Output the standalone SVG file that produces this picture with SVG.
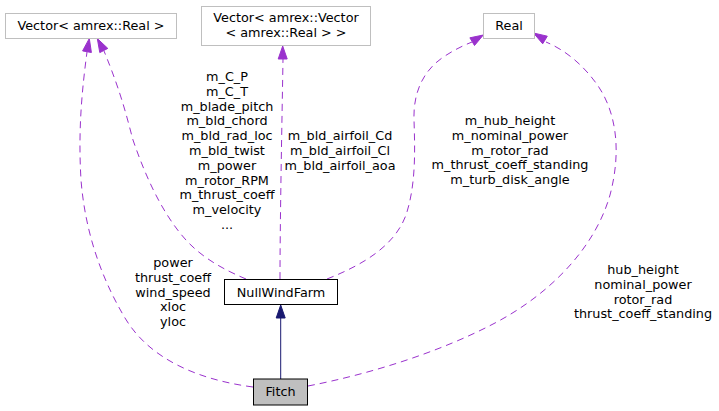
<svg xmlns="http://www.w3.org/2000/svg" width="719" height="411" viewBox="0 0 719 411">
<style>
text{font-family:"DejaVu Sans",sans-serif;font-size:12.8px;fill:#000;text-anchor:middle}
.box{fill:#fff;stroke:#bfbfbf;stroke-width:1}
.box2{fill:#fff;stroke:#000;stroke-width:1}
.cur{fill:#bfbfbf;stroke:#000;stroke-width:1}
.dash{fill:none;stroke:#9a32cd;stroke-width:1;stroke-dasharray:7,5}
.solid{fill:none;stroke:#191970;stroke-width:1}
.ahp{fill:#9a32cd;stroke:#9a32cd}
.ahn{fill:#191970;stroke:#191970}
</style>
<rect width="719" height="411" fill="#fff"/>
<g id="edges">
  <path class="solid" d="M280.7,379 L280.7,318"/>
  <polygon class="ahn" points="280.7,305 276.2,318 285.2,318"/>
  <path class="dash" d="M253,387 C200,380 150,360 125,318 C100,276 85,230 81,180 C78,130 82,90 87,52"/>
  <polygon class="ahp" points="89.3,38.5 82.6,50.9 91.4,52.5"/>
  <path class="dash" d="M246,279 C215,266 195,252 180,233 C160,208 145,175 133,140 C127,118 122,95 104,51"/>
  <polygon class="ahp" points="97.3,38.5 99.8,52.6 107.8,48.4"/>
  <path class="dash" d="M280,279 C280,220 282,120 283,59"/>
  <polygon class="ahp" points="282.7,46 278.2,59 287.2,59"/>
  <path class="dash" d="M327,279 C365,264 395,245 406,215 C416,185 415,150 414,120 C413,90 425,70 442,58 C452,51 462,46 472,42"/>
  <polygon class="ahp" points="483.3,35 469.9,37.8 474.5,45.5"/>
  <path class="dash" d="M308,386 C370,374 440,352 495,323 C550,294 595,248 610,195 C622,150 616,110 596,83 C582,64 565,50 546,42"/>
  <polygon class="ahp" points="533.5,33 542.7,43.8 547.3,36.2"/>
  <g id="edge-labels">
    <text x="227" y="81">m_C_P</text>
    <text x="227" y="95.8">m_C_T</text>
    <text x="227" y="110.6">m_blade_pitch</text>
    <text x="227" y="125.4">m_bld_chord</text>
    <text x="227" y="140.2">m_bld_rad_loc</text>
    <text x="227" y="155">m_bld_twist</text>
    <text x="227" y="169.8">m_power</text>
    <text x="227" y="184.6">m_rotor_RPM</text>
    <text x="227" y="199.4">m_thrust_coeff</text>
    <text x="227" y="214.2">m_velocity</text>
    <text x="227" y="229">...</text>
    <text x="340" y="140">m_bld_airfoil_Cd</text>
    <text x="340" y="154.8">m_bld_airfoil_Cl</text>
    <text x="340" y="169.6">m_bld_airfoil_aoa</text>
    <text x="510" y="125">m_hub_height</text>
    <text x="510" y="139.8">m_nominal_power</text>
    <text x="510" y="154.6">m_rotor_rad</text>
    <text x="510" y="169.4">m_thrust_coeff_standing</text>
    <text x="510" y="184.2">m_turb_disk_angle</text>
    <text x="173" y="267">power</text>
    <text x="173" y="281.8">thrust_coeff</text>
    <text x="173" y="296.6">wind_speed</text>
    <text x="173" y="311.4">xloc</text>
    <text x="173" y="326.2">yloc</text>
    <text x="643" y="274">hub_height</text>
    <text x="643" y="288.8">nominal_power</text>
    <text x="643" y="303.6">rotor_rad</text>
    <text x="643" y="318.4">thrust_coeff_standing</text>
  </g>
</g>
<g id="node-vector-real">
  <rect class="box" x="5.5" y="13.5" width="171" height="25"/>
  <text x="91" y="30">Vector&lt; amrex::Real &gt;</text>
</g>
<g id="node-vector-vector">
  <rect class="box" x="201.5" y="6.5" width="169" height="39"/>
  <text x="286" y="22">Vector&lt; amrex::Vector</text>
  <text x="286" y="36.8">&lt; amrex::Real &gt; &gt;</text>
</g>
<g id="node-real">
  <rect class="box" x="483.5" y="13.5" width="51" height="25"/>
  <text x="509" y="30">Real</text>
</g>
<g id="node-nullwindfarm">
  <rect class="box2" x="224.5" y="279.5" width="113" height="25"/>
  <text x="281" y="296.5">NullWindFarm</text>
</g>
<g id="node-fitch">
  <rect class="cur" x="253.5" y="379" width="54" height="26"/>
  <text x="280.5" y="395.5">Fitch</text>
</g>
</svg>
